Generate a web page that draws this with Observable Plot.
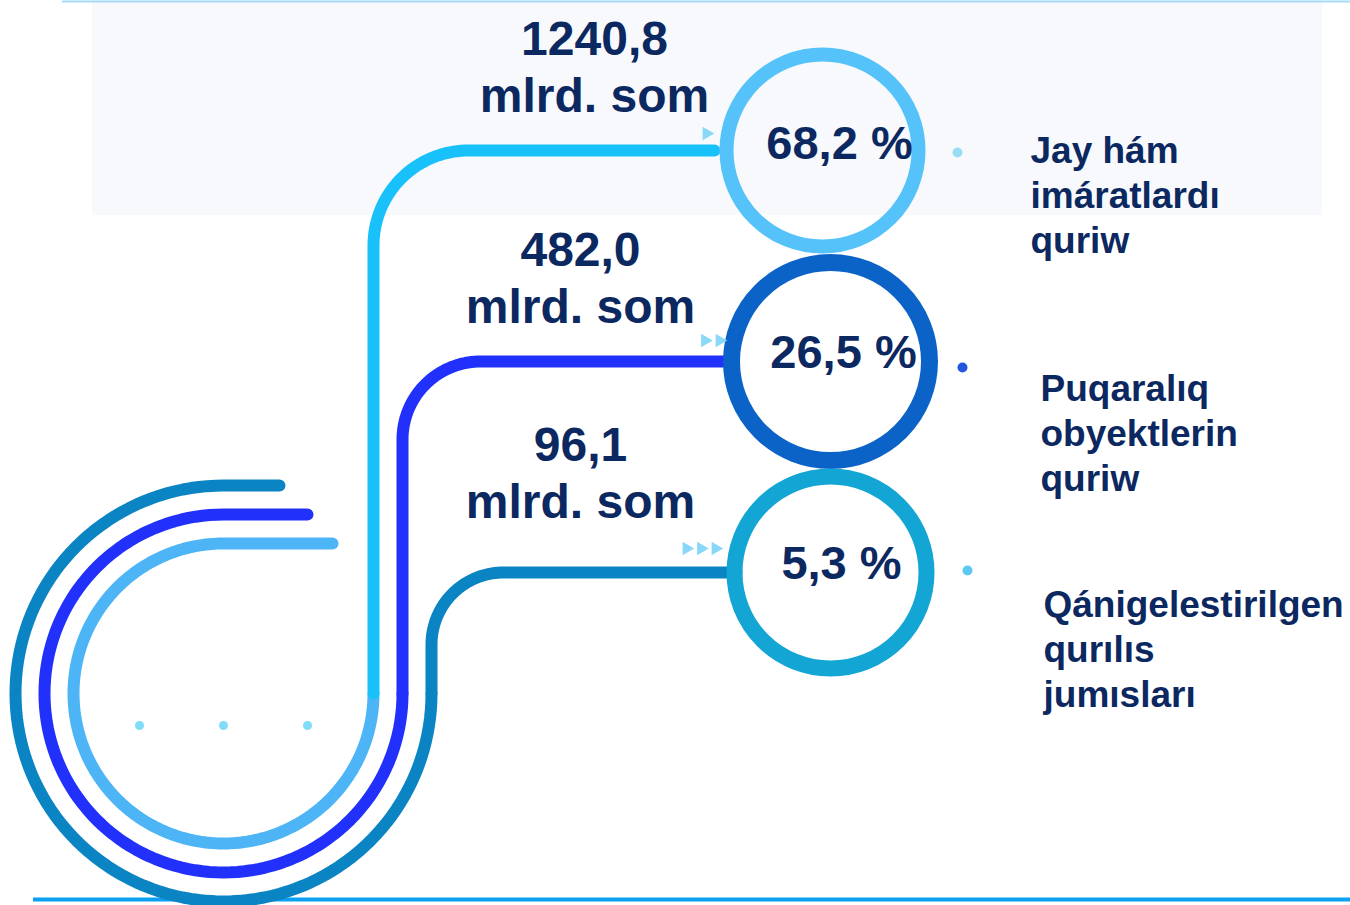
<!DOCTYPE html>
<html><head><meta charset="utf-8">
<script src="https://cdn.jsdelivr.net/npm/d3@7"></script>
<script src="https://cdn.jsdelivr.net/npm/@observablehq/plot@0.6"></script>
<style>html,body{margin:0;padding:0;background:#fff;} svg{display:block}</style>
</head><body><div id="chart"></div>
<script>
// ---- data ----
const categories = ["Jay hám\nimáratlardı\nquriw", "Puqaralıq\nobyektlerin\nquriw", "Qánigelestirilgen\nqurılıs\njumısları"];
const amounts = [1240.8, 482.0, 96.1];
const unit = "mlrd. som";
const shares = [68.2, 26.5, 5.3];

// ---- layout & style ----
const W = 1350, H = 905;
const navy = "#0c2860";
const font = "Liberation Sans, Arial, Helvetica, sans-serif";
const loop = {cx: 223, cy: 693, r: [150, 179, 208], stubEnd: [332, 307, 279]};
const rowY = [150, 361, 572];
const ringX = [822, 830, 830], ringR = [96, 99, 96], ringW = [14, 17, 16];
const lineEnd = [714, 724, 736], corner = [95, 78, 72];
const lineColors = ["#19c1fb", "#2230fb", "#0b84c4"];
const loopColors = ["#4db5f6", "#2230fb", "#0b84c4"];
const ringColors = ["#55c3fa", "#0b63c8", "#13a5d3"];
const sideDotColors = ["#9adcf6", "#2256e0", "#5ccaf0"];
const valueX = [594, 580, 580], valueY = [65, 276, 471];
const pctX = [839, 843, 841], pctY = [143, 352, 563];
const catX = [1030, 1040, 1043], catY = [193, 431, 647];
const sideDotX = [957, 962, 967], sideDotDy = [2, 6, -2];
const arrowRight = [706, 719, 715], arrowDy = [-17, -21, -24];

const fmt = v => d3.format(".1f")(v).replace(".", ",");

function paths(i) {
  const r = loop.r[i], cx = loop.cx, cy = loop.cy;
  const a = [{x: loop.stubEnd[i], y: cy - r}];
  for (let k = 0; k <= 120; k++) {
    const t = (-90 - 270 * k / 120) * Math.PI / 180;
    a.push({x: cx + r * Math.cos(t), y: cy + r * Math.sin(t)});
  }
  const vx = cx + r, hy = rowY[i], R = corner[i];
  const b = [{x: vx, y: cy}];
  for (let k = 0; k <= 40; k++) {
    const t = (180 + 90 * k / 40) * Math.PI / 180;
    b.push({x: vx + R + R * Math.cos(t), y: hy + R + R * Math.sin(t)});
  }
  b.push({x: lineEnd[i], y: hy});
  return [a, b];
}

const rows = categories.map((c, i) => ({i, c, amount: amounts[i], share: shares[i]}));
const arrows = rows.flatMap((d, i) => d3.range(i + 1).map(k => ({x: arrowRight[i] - k * 14.5, y: rowY[i] + arrowDy[i]})));
const loopDots = [-1, 0, 1].map(k => ({x: loop.cx + k * 84, y: loop.cy + 32}));

const marks = [
  Plot.rect([0], {x1: 92, x2: 1322, y1: 0, y2: 215, fill: "#f7f9fc"}),
  Plot.ruleY([1], {x1: 62, x2: W, stroke: "#a6dcf9", strokeWidth: 2}),
  Plot.ruleY([899], {x1: 33, x2: W, stroke: "#0ba0f2", strokeWidth: 4})
];
// order: outer first, inner last
[2, 1, 0].forEach(i => {
  const [a, b] = paths(i);
  marks.push(Plot.line(a, {x: "x", y: "y", stroke: loopColors[i], strokeWidth: 12, strokeLinecap: "round", strokeLinejoin: "round"}));
  marks.push(Plot.line(b, {x: "x", y: "y", stroke: lineColors[i], strokeWidth: 12, strokeLinecap: "round", strokeLinejoin: "round"}));
});
rows.forEach(d => {
  marks.push(Plot.dot([d], {x: () => ringX[d.i], y: () => rowY[d.i], r: ringR[d.i], stroke: ringColors[d.i], strokeWidth: ringW[d.i], fill: "none"}));
});
marks.push(
  Plot.dot(arrows, {x: "x", y: "y", symbol: "triangle", rotate: 90, r: 5, fill: "#8ad8f8", stroke: "none"}),
  Plot.dot(rows, {x: d => sideDotX[d.i], y: d => rowY[d.i] + sideDotDy[d.i], r: 5, fill: d => sideDotColors[d.i], stroke: "none"}),
  Plot.dot(loopDots, {x: "x", y: "y", r: 4.5, fill: "#80dcf7", stroke: "none"}),
  Plot.text(rows, {x: d => valueX[d.i], y: d => valueY[d.i], text: d => fmt(d.amount) + "\n" + unit, fontSize: 48, fontWeight: "bold", lineHeight: 1.19, textAnchor: "middle", lineAnchor: "middle", fill: navy}),
  Plot.text(rows, {x: d => pctX[d.i], y: d => pctY[d.i], text: d => fmt(d.share) + " %", fontSize: 47, fontWeight: "bold", textAnchor: "middle", lineAnchor: "middle", fill: navy}),
  Plot.text(rows, {x: d => catX[d.i], y: d => catY[d.i], text: "c", fontSize: 37, fontWeight: "bold", lineHeight: 1.216, textAnchor: "start", lineAnchor: "middle", fill: navy})
);

const chart = Plot.plot({
  width: W, height: H, margin: 0,
  x: {domain: [0, W], range: [0, W], axis: null},
  y: {domain: [0, H], range: [0, H], axis: null},
  color: {type: "identity"},
  style: {fontFamily: font, background: "#fff", overflow: "visible"},
  marks
});
document.getElementById("chart").appendChild(chart);
</script>
</body></html>
